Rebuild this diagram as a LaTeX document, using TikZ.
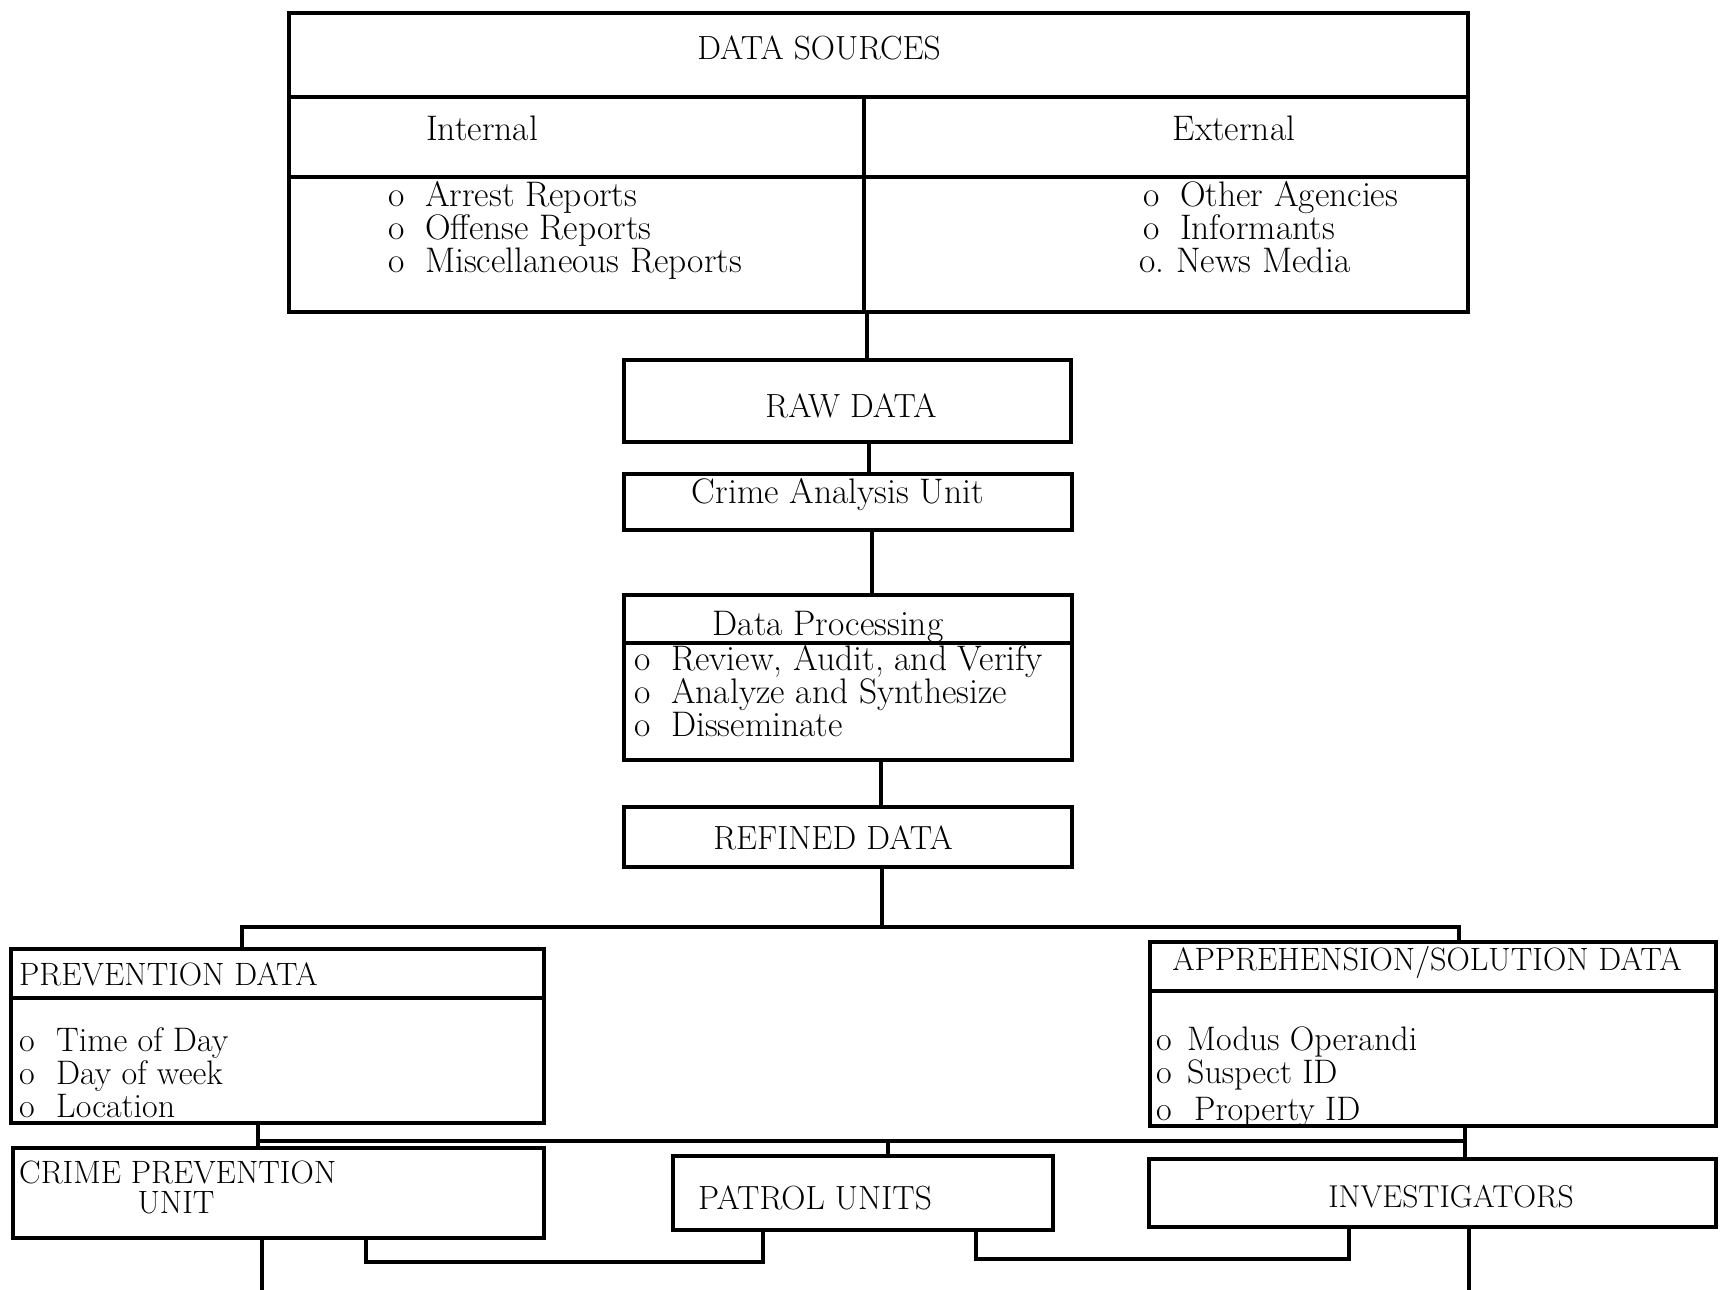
\documentclass[tikz,border=0pt]{standalone}
\usepackage{fontspec}
\newcommand{\fsT}{\fontsize{33.5}{38}\selectfont}
\newcommand{\fsI}{\fontsize{35.5}{40}\selectfont}
\newcommand{\fsH}{\fontsize{32.3}{37}\selectfont}
\newcommand{\fsL}{\fontsize{34}{39}\selectfont}
\begin{document}
\begin{tikzpicture}[x=1pt,y=-1pt,
  box/.style={draw, line width=3.2pt, inner sep=0pt},
  ln/.style={line width=3.2pt},
  lbl/.style={inner sep=0pt, font=\fsT},
  itm/.style={inner sep=0pt, font=\fsI, anchor=base west},
  itc/.style={inner sep=0pt, font=\fsL, anchor=base west},
  ttl/.style={inner sep=0pt, font=\fsT, anchor=base},
]
\useasboundingbox (0,0) rectangle (1727,1290);
\fill[white] (0,0) rectangle (1727,1290);

% ---------- boxes ----------
\node[box, minimum width=1179pt, minimum height=299pt] (ds) at (878.5,162.5) {};
\node[box, minimum width=447pt, minimum height=82pt] (raw) at (847.5,401) {};
\node[box, minimum width=448pt, minimum height=56pt] (cau) at (848,502) {};
\node[box, minimum width=448pt, minimum height=165pt] (dp) at (848,677.5) {};
\node[box, minimum width=448pt, minimum height=60pt] (rd) at (848,837) {};
\node[box, minimum width=533pt, minimum height=174pt] (pd) at (277.5,1036) {};
\node[box, minimum width=566pt, minimum height=184pt] (as) at (1433,1034) {};
\node[box, minimum width=531pt, minimum height=90pt] (cpu) at (278.5,1193) {};
\node[box, minimum width=380pt, minimum height=74pt] (pu) at (863,1193) {};
\node[box, minimum width=567pt, minimum height=68pt] (inv) at (1432.5,1193) {};

% ---------- dividers ----------
\coordinate (d1) at (0,97);
\coordinate (d2) at (0,177);
\coordinate (vx) at (864,0);
\draw[ln] (ds.west |- d1) -- (ds.east |- d1);
\draw[ln] (ds.west |- d2) -- (ds.east |- d2);
\draw[ln] (vx |- d1) -- (vx |- ds.south);
\coordinate (d3) at (0,643);
\draw[ln] (dp.west |- d3) -- (dp.east |- d3);
\coordinate (d4) at (0,998);
\draw[ln] (pd.west |- d4) -- (pd.east |- d4);
\coordinate (d5) at (0,991);
\draw[ln] (as.west |- d5) -- (as.east |- d5);

% ---------- texts ----------
\node[lbl] (tds) at (819,48) {DATA SOURCES};
\node[lbl, font=\fsI] (tint) at (482,128) {Internal};
\node[lbl, font=\fsI] (text) at (1234,128) {External};

\node[itm] (i1o) at (388,206) {o};
\node[itm] (i1) at (425,206) {Arrest Reports};
\node[itm] (i2o) at (388,239) {o};
\node[itm] (i2) at (425,239) {Offense Reports};
\node[itm] (i3o) at (388,272) {o};
\node[itm] (i3) at (425,272) {Miscellaneous Reports};

\node[itm] (e1o) at (1143,206) {o};
\node[itm] (e1) at (1180,206) {Other Agencies};
\node[itm] (e2o) at (1143,239) {o};
\node[itm] (e2) at (1180,239) {Informants};
\node[itm] (e3o) at (1139,272) {o.};
\node[itm] (e3) at (1176,272) {News Media};

\node[ttl] (traw) at (851,417) {RAW DATA};
\node[ttl, font=\fsI] (tcau) at (838,503) {Crime Analysis Unit};
\node[ttl, font=\fsI] (tdp) at (828,635) {Data Processing};
\node[itm] (p1o) at (634,670) {o};
\node[itm] (p1) at (671,670) {Review, Audit, and Verify};
\node[itm] (p2o) at (634,703) {o};
\node[itm] (p2) at (671,703) {Analyze and Synthesize};
\node[itm] (p3o) at (634,736) {o};
\node[itm] (p3) at (671,736) {Disseminate};
\node[ttl] (trd) at (833,849) {REFINED DATA};

\node[itc, font=\fsH] (tpd) at (19,985) {PREVENTION DATA};
\node[itc] (q1o) at (19,1051) {o};
\node[itc] (q1) at (56,1051) {Time of Day};
\node[itc] (q2o) at (19,1084) {o};
\node[itc] (q2) at (56,1084) {Day of week};
\node[itc] (q3o) at (19,1117) {o};
\node[itc] (q3) at (56,1117) {Location};

\node[ttl, font=\fsH] (tas) at (1427,970) {APPREHENSION/SOLUTION DATA};
\node[itc] (r1o) at (1156,1050) {o};
\node[itc] (r1) at (1187,1050) {Modus Operandi};
\node[itc] (r2o) at (1156,1083) {o};
\node[itc] (r2) at (1187,1083) {Suspect ID};
\node[itc] (r3o) at (1156,1120) {o};
\node[itc] (r3) at (1194,1120) {Property ID};

\node[itc, font=\fsH] (tcpu1) at (19,1183) {CRIME PREVENTION};
\node[ttl, font=\fsH] (tcpu2) at (176,1213) {UNIT};
\node[ttl] (tpu) at (815,1209) {PATROL UNITS};
\node[ttl, font=\fontsize{31.6}{36}\selectfont] (tinv) at (1451,1207) {INVESTIGATORS};

% ---------- connectors ----------
\coordinate (xa) at (867,0);
\draw[ln] (xa |- ds.south) -- (xa |- raw.north);
\coordinate (xb) at (869,0);
\draw[ln] (xb |- raw.south) -- (xb |- cau.north);
\coordinate (xc) at (872,0);
\draw[ln] (xc |- cau.south) -- (xc |- dp.north);
\coordinate (xd) at (881,0);
\draw[ln] (xd |- dp.south) -- (xd |- rd.north);

\coordinate (busL) at (242,927);
\coordinate (busR) at (1459,927);
\coordinate (xe) at (882,0);
\draw[ln] (xe |- rd.south) -- (xe |- busL);
\draw[ln] (busL |- pd.north) -- (busL) -- (busR) -- (busR |- as.north);

\coordinate (lbL) at (258,1141);
\coordinate (lbR) at (1465,1141);
\coordinate (xp) at (888,0);
\draw[ln] (lbL |- pd.south) -- (lbL |- cpu.north);
\draw[ln] (lbL) -- (lbR);
\draw[ln] (lbR |- as.south) -- (lbR |- inv.north);
\draw[ln] (xp |- lbL) -- (xp |- pu.north);

\coordinate (out1) at (262,1290);
\draw[ln] (out1 |- cpu.south) -- (out1);
\coordinate (b1) at (366,1262);
\coordinate (b2) at (763,1262);
\draw[ln] (b1 |- cpu.south) -- (b1) -- (b2) -- (b2 |- pu.south);
\coordinate (b3) at (976,1259);
\coordinate (b4) at (1349,1259);
\draw[ln] (b3 |- pu.south) -- (b3) -- (b4) -- (b4 |- inv.south);
\coordinate (out2) at (1469,1290);
\draw[ln] (out2 |- inv.south) -- (out2);
\end{tikzpicture}
\end{document}
